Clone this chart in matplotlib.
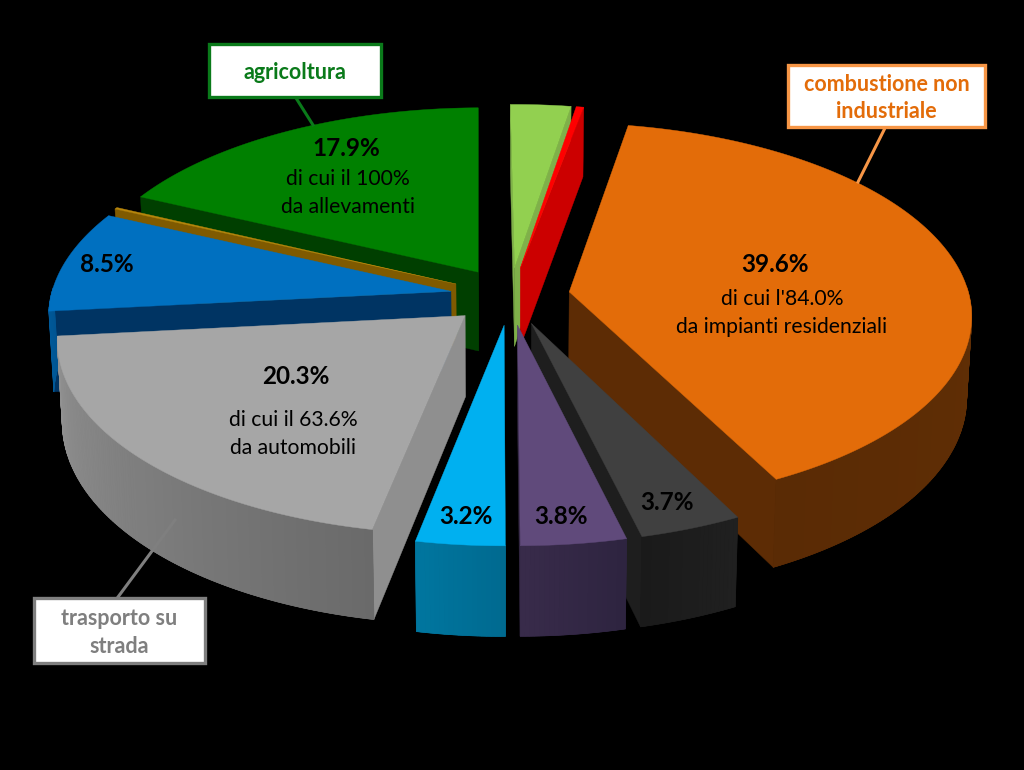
"""3D exploded pie, drawn with polygons from the shares"""
import numpy as np
import matplotlib
matplotlib.use("Agg")
import matplotlib.pyplot as plt
from matplotlib.colors import to_rgb
from matplotlib.patches import Rectangle

names = ["verde", "rosso", "combustione", "grigio scuro", "viola", "azzurro",
         "trasporto", "blu", "marrone", "agricoltura"]
shares = [2.8, 0.35, 39.6, 3.7, 3.8, 3.2, 20.3, 8.5, 0.15, 17.9]

top_cols = ["#92d050", "#ff0000", "#e36c09", "#404040", "#604a7b", "#00b0f0",
            "#a6a6a6", "#0070c0", "#b8860b", "#008000"]
cut_cols = ["#7fb04a", "#cc0000", "#5d2c05", "#1e1e1e", "#342844", "#006f98",
            "#8f8f8f", "#003463", "#7f5a00", "#003f00"]
wall_a = ["#7fb04a", "#cc0000", "#6a3306", "#202020", "#2e2440", "#006a90",
          "#6a6a6a", "#005a9a", "#7f5a00", "#004f00"]
wall_b = ["#7fb04a", "#cc0000", "#5a2b05", "#1a1a1a", "#382b4a", "#00769f",
          "#929292", "#00447a", "#7f5a00", "#004f00"]

cx, cy = 510, 296
rx, ry = 400, 192
k = 0.115
burst = 0.15
depth = 80
start = np.radians(-0.6)


def project(x, y, low=False):
    s = 1 + k * y
    shrink = 0.989 if low else 1.0
    px = cx + rx * x * s * shrink
    py = cy + ry * y * s + (depth * s if low else 0)
    return px, py


def quad_area(xs, ys):
    return 0.5 * np.sum(xs * np.roll(ys, -1) - np.roll(xs, -1) * ys)


fig = plt.figure(figsize=(10.24, 7.7), dpi=100, facecolor="black")
ax = fig.add_axes([0, 0, 1, 1])
ax.set_xlim(0, 1024)
ax.set_ylim(770, 0)
ax.axis("off")

edges = start + np.cumsum([0] + shares) / np.sum(shares) * 2 * np.pi
mids = (edges[:-1] + edges[1:]) / 2
order = np.argsort(-np.cos(mids))

for i in order:
    t0, t1 = edges[i], edges[i + 1]
    ox, oy = burst * np.sin(mids[i]), -burst * np.cos(mids[i])
    n = max(int((t1 - t0) / 0.01), 2)
    tt = np.linspace(t0, t1, n)
    xs = ox + np.sin(tt)
    ys = oy - np.cos(tt)

    # cut sides
    for a in (t0, t1):
        x_e, y_e = ox + np.sin(a), oy - np.cos(a)
        p1, p2 = project(ox, oy), project(x_e, y_e)
        p3, p4 = project(x_e, y_e, True), project(ox, oy, True)
        px = np.array([p1[0], p2[0], p3[0], p4[0]])
        py = np.array([p1[1], p2[1], p3[1], p4[1]])
        area = quad_area(px, py)
        facing = area < 0 if a == t0 else area > 0
        if facing:
            ax.fill(px, py, color=cut_cols[i], lw=0.3, zorder=1)

    # outer wall, base colour first so the strips leave no seams
    col_a, col_b = np.array(to_rgb(wall_a[i])), np.array(to_rgb(wall_b[i]))
    seen = -np.cos(tt) > -0.03
    if seen.sum() > 1:
        hx, hy = project(xs[seen], ys[seen])
        lx, ly = project(xs[seen], ys[seen], True)
        ax.fill(np.r_[hx, lx[::-1]], np.r_[hy, ly[::-1]], color=(col_a + col_b) / 2, lw=0.3, zorder=1)
    for j in range(n - 1):
        if not (seen[j] and seen[j + 1]):
            continue
        f = j / max(n - 2, 1)
        c = col_a * (1 - f) + col_b * f
        x1, y1 = project(xs[j], ys[j])
        x2, y2 = project(xs[j + 1], ys[j + 1])
        x3, y3 = project(xs[j + 1], ys[j + 1], True)
        x4, y4 = project(xs[j], ys[j], True)
        ax.fill([x1, x2, x3, x4], [y1, y2, y3, y4], color=c, lw=0.5, zorder=1)

    # top face
    tx, ty = project(np.r_[ox, xs], np.r_[oy, ys])
    ax.fill(tx, ty, color=top_cols[i], lw=0.3, zorder=1)

pct_labels = ["39.6%", "17.9%", "20.3%", "8.5%", "3.2%", "3.8%", "3.7%"]
pct_x = [775, 346, 296, 107, 466, 561, 667]
pct_y = [264, 149, 377, 265, 516, 517, 502]
for s, x, y in zip(pct_labels, pct_x, pct_y):
    ax.text(x, y, s, ha="center", va="center", family="Lato", weight="bold",
            fontsize=17.5, color="black", zorder=3)

note_labels = ["di cui l'84.0%", "da impianti residenziali", "di cui il 100%", "da allevamenti",
               "di cui il 63.6%", "da automobili"]
note_x = [782, 782, 348, 348, 293, 293]
note_y = [299, 327, 179, 207, 420, 448]
for s, x, y in zip(note_labels, note_x, note_y):
    ax.text(x, y, s, ha="center", va="center", family="Lato",
            fontsize=15.2, color="black", zorder=3)

box_text = ["agricoltura", "combustione non\nindustriale", "trasporto su\nstrada"]
box_rect = [(209, 44, 172, 53), (788, 65, 197, 62), (34, 598, 171, 65)]
box_edge = ["#0a7a1a", "#f79646", "#7f7f7f"]
box_font = ["#0a7a1a", "#e36c09", "#7f7f7f"]
lead_x = [(296, 313), (885, 858), (118, 175)]
lead_y = [(98, 125), (128, 182), (597, 520)]
for s, (bx, by, bw, bh), e, f, lx, ly in zip(box_text, box_rect, box_edge, box_font, lead_x, lead_y):
    ax.plot(lx, ly, color=e, lw=2.2, zorder=2)
    ax.add_patch(Rectangle((bx, by), bw, bh, fc="white", ec=e, lw=2.4, zorder=3))
    ax.text(bx + bw / 2, by + bh / 2 + 2, s, ha="center", va="center", family="Lato", weight="bold",
            fontsize=15.5, color=f, linespacing=1.4, zorder=4)

fig.savefig("out.png", dpi=100, facecolor="black")
